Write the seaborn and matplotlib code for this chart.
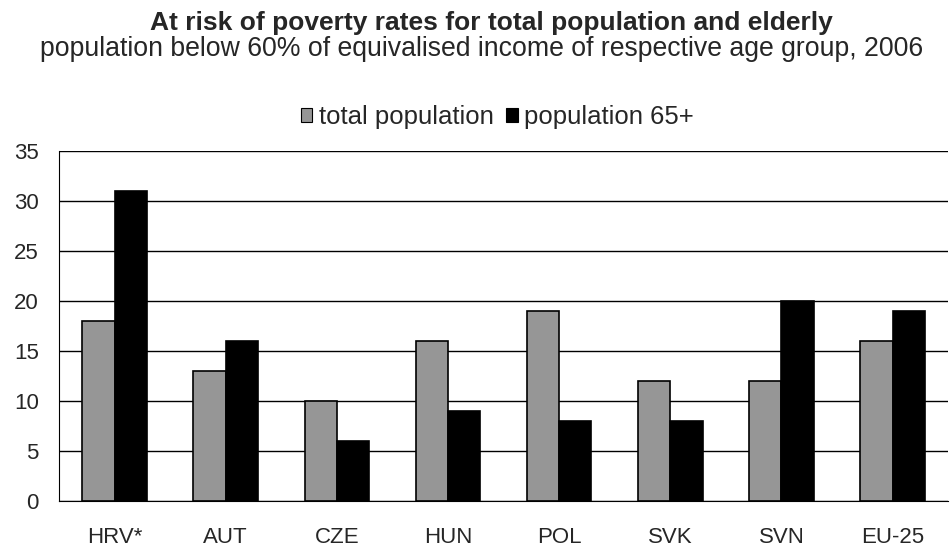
import numpy as np
import pandas as pd
import matplotlib
matplotlib.use("Agg")
import matplotlib.pyplot as plt
import seaborn as sns

countries = ["HRV*", "AUT", "CZE", "HUN", "POL", "SVK", "SVN", "EU-25"]
total_pop = [18, 13, 10, 16, 19, 12, 12, 16]
pop_65 = [31, 16, 6, 9, 8, 8, 20, 19]
series = ["total population", "population 65+"]
colors = ["#969696", "#000000"]

df = pd.DataFrame({"country": countries, series[0]: total_pop, series[1]: pop_65})
df = df.melt(id_vars="country", var_name="group", value_name="rate")

sns.set_style("white")
plt.rcParams["font.family"] = ["Liberation Sans", "DejaVu Sans"]

fig = plt.figure(figsize=(9.51, 5.47), dpi=100)
ax = fig.add_axes([0.062, 0.084, 0.935, 0.640])

sns.barplot(data=df, x="country", y="rate", hue="group", palette=colors,
            width=0.58, edgecolor="black", linewidth=1.2, ax=ax, legend=False)

ax.set_ylim(0, 35)
ax.set_xlim(-0.5, len(countries) - 0.5)
ax.set_yticks(np.arange(0, 36, 5))
ax.yaxis.grid(True, color="black", linewidth=1)
ax.set_axisbelow(True)
for s in ["top", "right"]:
    ax.spines[s].set_visible(False)
ax.spines["left"].set_color("black")
ax.spines["bottom"].set_color("black")
ax.set_xlabel("")
ax.set_ylabel("")

# x ticks between categories
ax.set_xticks(np.arange(-0.5, len(countries), 1), minor=True)
ax.tick_params(axis="x", which="minor", length=5.5, width=1, color="black", direction="out")
ax.tick_params(axis="x", which="major", length=0, pad=19, labelsize=16)
ax.tick_params(axis="y", length=6.5, width=1, color="black", direction="out", labelsize=16, pad=8)

fig.text(0.517, 0.958, "At risk of poverty rates for total population and elderly",
         ha="center", va="center", fontsize=19, fontweight="bold")
fig.text(0.506, 0.910, "population below 60% of equivalised income of respective age group, 2006",
         ha="center", va="center", fontsize=19.2)

handles = [plt.Rectangle((0, 0), 1, 1, facecolor=c, edgecolor="black", linewidth=0.8) for c in colors]
fig.legend(handles, series, loc="center", bbox_to_anchor=(0.523, 0.786), ncol=2, frameon=False,
           fontsize=18.5, handlelength=0.45, handleheight=0.45, handletextpad=0.25, columnspacing=0.5,
           borderpad=0)

fig.savefig("out.png", dpi=100)
